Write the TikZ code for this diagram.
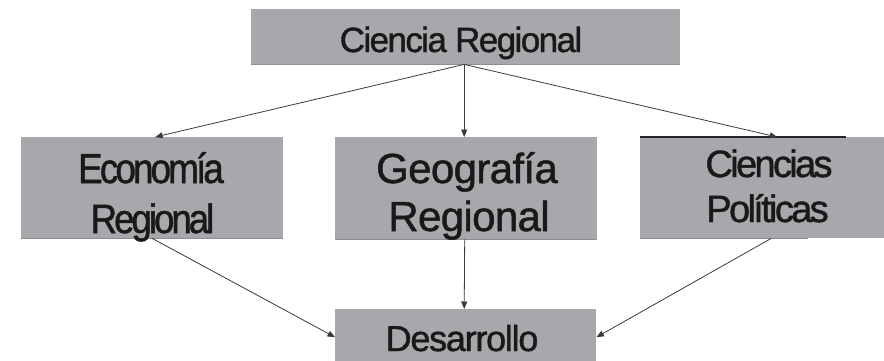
\documentclass[tikz,border=0pt]{standalone}
\usepackage{fontspec}
\setmainfont{Liberation Sans}
\usetikzlibrary{arrows.meta}
\definecolor{boxgray}{HTML}{A7A8AB}
\definecolor{boxedge}{HTML}{8C8D90}
\definecolor{linkgray}{HTML}{3A3A3A}
% tightly tracked label text: size, baseline skip, tracking
\newcommand{\tight}[3]{\fontsize{#1}{#2}\selectfont\addfontfeatures{LetterSpace=#3,FakeBold=1.2}}
\begin{document}
\begin{tikzpicture}[x=1pt,y=-1pt,
  box/.style={fill=boxgray, draw=none, inner sep=0pt, anchor=north west},
  word/.style={anchor=base, inner sep=0pt, text=black!90},
  link/.style={draw=linkgray, line width=0.8pt,
    -{Triangle[length=7.5pt,width=6pt]}}]
  \useasboundingbox (0,0) rectangle (884,360);
  \clip (0,0) rectangle (884,360);
  \fill[white] (0,0) rectangle (884,360);

  % boxes
  \node[box, minimum width=429pt, minimum height=55pt] (cr) at (251,9) {};
  \node[box, minimum width=262pt, minimum height=101pt] (eco) at (21,137) {};
  \node[box, minimum width=262pt, minimum height=102pt] (geo) at (335,137) {};
  \node[box, minimum width=244pt, minimum height=101pt] (pol) at (640,137) {};
  \node[box, minimum width=261pt, minimum height=56pt] (des) at (335,309) {};

  % shaded lower edges and the dark rule over the right box
  \draw[boxedge, line width=1pt] (cr.south west) -- (cr.south east);
  \draw[boxedge, line width=1pt] (eco.south west) -- (eco.south east);
  \draw[boxedge, line width=1pt] (geo.south west) -- (geo.south east);
  \draw[boxedge, line width=1pt] (pol.south west) -- ++(168,0);
  \draw[black!85, line width=1.1pt] (pol.north west) -- ++(206,0);

  % texts
  \node[word, font=\tight{35}{40}{-4.5}] (crt) at (461,52)
    {Ciencia Regional};
  \node[word, font=\tight{42}{50}{-8}] (ecot1) at (151,183)
    {\scalebox{0.88}[1]{Economía}};
  \node[word, font=\tight{41}{50}{-8}] (ecot2) at (152.5,233)
    {\scalebox{0.89}[1]{Regional}};
  \node[word, font=\tight{42}{50}{-1.5}] (geot1) at (467,183)
    {Geografía};
  \node[word, font=\tight{42}{50}{-1.5}] (geot2) at (469,231)
    {Regional};
  \node[word, font=\tight{38}{45}{-7}] (polt1) at (769,177)
    {Ciencias};
  \node[word, font=\tight{38}{45}{-7}] (polt2) at (767.5,222)
    {Políticas};
  \node[word, font=\tight{36}{42}{-3.5}] (dest) at (462,351)
    {Desarrollo};

  % connectors
  \coordinate (top) at ([xshift=-1.5pt]cr.south);
  \draw[link] (top) -- ([xshift=3pt]eco.north);
  \draw[link] (top) -- (top |- geo.north);
  \draw[link] (top) -- ([xshift=15pt]pol.north);
  \draw[link] (eco.south) -- (des.west);
  \draw[link] ([xshift=-1.5pt]geo.south) -- ([xshift=-1.5pt]des.north);
  \draw[link] ([xshift=9pt]pol.south) -- (des.east);
\end{tikzpicture}
\end{document}
